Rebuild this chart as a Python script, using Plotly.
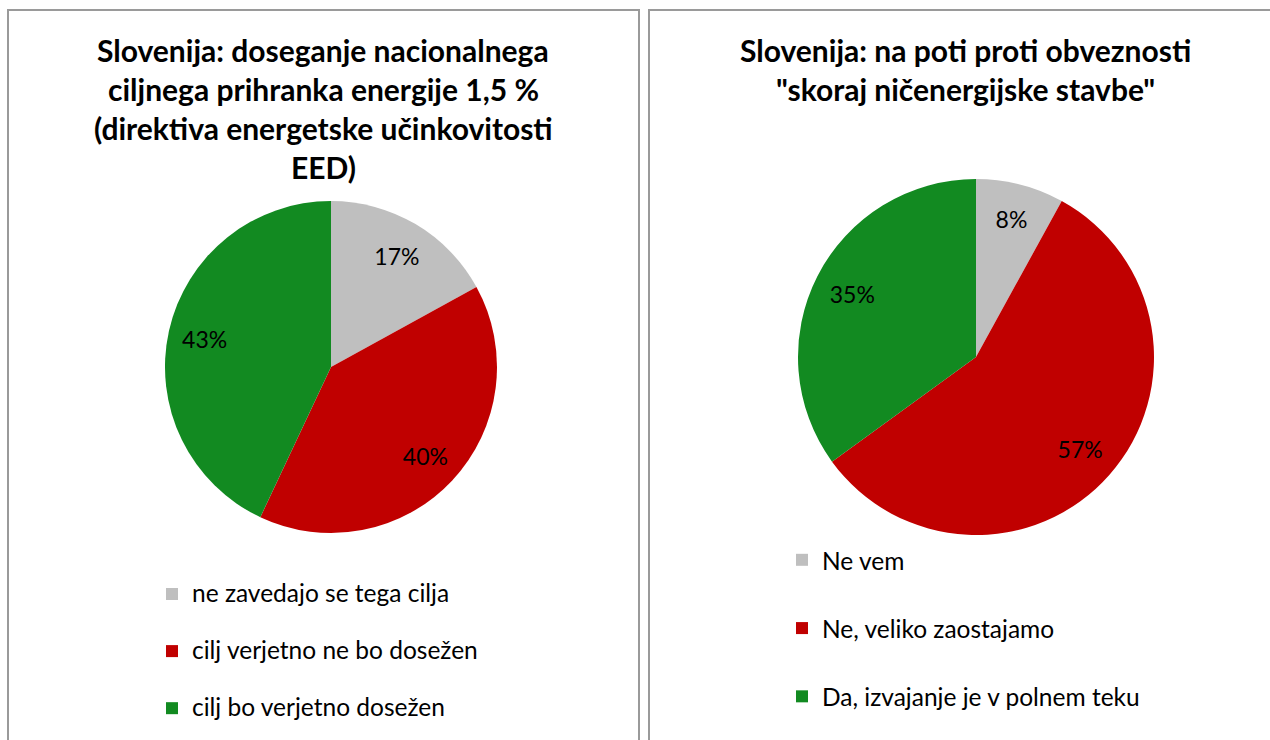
import plotly.graph_objects as go

# ---- data ----
left_title_lines = ["Slovenija: doseganje nacionalnega",
                    "ciljnega prihranka energije 1,5 %",
                    "(direktiva energetske učinkovitosti",
                    "EED)"]
left_labels = ["ne zavedajo se tega cilja", "cilj verjetno ne bo dosežen", "cilj bo verjetno dosežen"]
left_values = [17, 40, 43]

right_title_lines = ["Slovenija: na poti proti obveznosti",
                     "\"skoraj ničenergijske stavbe\""]
right_labels = ["Ne vem", "Ne, veliko zaostajamo", "Da, izvajanje je v polnem teku"]
right_values = [8, 57, 35]

colors = ["#bfbfbf", "#c00000", "#128a21"]

W, H = 1270, 740
FONT = "Lato"
LEG_SIZE = 24.5

def px_x(x):
    return x / W

def px_y(y):
    return 1 - y / H

def leg_label(t):
    return f"<span style='font-size:{LEG_SIZE}px'>{t}</span><br> "

def add_pie(labels, values, dom, legend_name):
    # base pie (colours + legend)
    fig.add_trace(go.Pie(
        labels=[leg_label(l) for l in labels], values=values,
        sort=False, direction="clockwise", rotation=0,
        marker=dict(colors=colors, line=dict(width=0)),
        textinfo="none", domain=dom, legend=legend_name,
        hoverinfo="label+percent",
    ))
    # transparent ring on top that carries the percentage labels
    fig.add_trace(go.Pie(
        labels=labels, values=values,
        sort=False, direction="clockwise", rotation=0, hole=0.56,
        marker=dict(colors=["rgba(0,0,0,0)"] * len(values), line=dict(width=0)),
        textinfo="percent", texttemplate="%{percent:.0%}",
        textposition="inside", insidetextorientation="horizontal",
        textfont=dict(family=FONT, size=23, color="black"),
        domain=dom, showlegend=False, hoverinfo="skip",
    ))

fig = go.Figure()
add_pie(left_labels, left_values,
        dict(x=[px_x(165), px_x(497)], y=[px_y(533), px_y(201)]), "legend")
add_pie(right_labels, right_values,
        dict(x=[px_x(798), px_x(1154)], y=[px_y(535), px_y(179)]), "legend2")

annotations = []
for i, line in enumerate(left_title_lines):
    annotations.append(dict(text=f"<b>{line}</b>", x=px_x(323), y=px_y(50 + 39 * i),
                            xref="paper", yref="paper", xanchor="center", yanchor="middle",
                            showarrow=False, font=dict(family=FONT, size=30, color="black")))
for i, line in enumerate(right_title_lines):
    annotations.append(dict(text=f"<b>{line}</b>", x=px_x(965), y=px_y(50 + 39 * i),
                            xref="paper", yref="paper", xanchor="center", yanchor="middle",
                            showarrow=False, font=dict(family=FONT, size=30, color="black")))

shapes = [
    dict(type="rect", xref="paper", yref="paper", x0=px_x(8), x1=px_x(639), y0=px_y(760), y1=px_y(10),
         line=dict(color="#9a9a9a", width=2), fillcolor="rgba(0,0,0,0)"),
    dict(type="rect", xref="paper", yref="paper", x0=px_x(649), x1=px_x(1290), y0=px_y(760), y1=px_y(10),
         line=dict(color="#9a9a9a", width=2), fillcolor="rgba(0,0,0,0)"),
]

fig.update_layout(
    width=W, height=H,
    margin=dict(l=0, r=0, t=0, b=0, autoexpand=False),
    paper_bgcolor="white", plot_bgcolor="white",
    font=dict(family=FONT, color="black"),
    annotations=annotations, shapes=shapes,
    legend=dict(x=px_x(152), y=px_y(574), xanchor="left", yanchor="top",
                font=dict(family=FONT, size=20.8, color="black"), valign="top",
                bgcolor="rgba(0,0,0,0)", traceorder="normal"),
    legend2=dict(x=px_x(782), y=px_y(537), xanchor="left", yanchor="top",
                 font=dict(family=FONT, size=25.1, color="black"), valign="top",
                 bgcolor="rgba(0,0,0,0)", traceorder="normal"),
)

fig.write_html("out.html", config={"displayModeBar": False},
               post_script="document.body.style.margin='0';")
